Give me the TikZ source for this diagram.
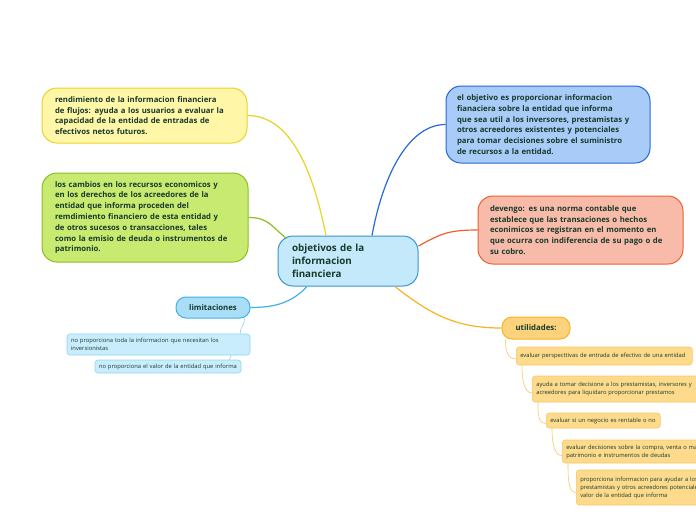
\documentclass[tikz,border=0pt]{standalone}
\usepackage{fontspec}
\setmainfont{Open Sans}
\usetikzlibrary{calc}
\definecolor{txtdk}{HTML}{173A2B}
\definecolor{cenfill}{HTML}{C3E9FA}
\definecolor{cendraw}{HTML}{3A95D2}
\definecolor{yelfill}{HTML}{FFF6A8}
\definecolor{yeldraw}{HTML}{E9D22A}
\definecolor{grnfill}{HTML}{C8EA70}
\definecolor{grndraw}{HTML}{8DBE22}
\definecolor{blufill}{HTML}{A8CBF8}
\definecolor{bludraw}{HTML}{2768D8}
\definecolor{salfill}{HTML}{F8BBAA}
\definecolor{saldraw}{HTML}{F0602E}
\definecolor{limfill}{HTML}{AADEF6}
\definecolor{limdraw}{HTML}{40B2E8}
\definecolor{limlfill}{HTML}{C9EDFC}
\definecolor{limldraw}{HTML}{90D4F2}
\definecolor{utlfill}{HTML}{FCD37C}
\definecolor{utldraw}{HTML}{F5B521}
\definecolor{utllfill}{HTML}{FDDA8C}
\definecolor{utlldraw}{HTML}{F8C860}
\newcommand\cenfont{\bfseries\fontsize{9.8}{13.3}\selectfont}
\newcommand\topicfont{\bfseries\fontsize{7.75}{10.8}\selectfont}
\newcommand\subfont{\bfseries\fontsize{7.8}{9}\selectfont}
\newcommand\leaffont{\fontsize{5.8}{8}\selectfont}
\tikzset{
  blk/.style={draw,rounded corners=15pt,line width=1pt,inner ysep=0pt,align=left,text=txtdk},
  cenblk/.style={blk,fill=cenfill,draw=cendraw,font=\cenfont,inner xsep=14pt,text width=112pt,minimum height=50pt},
  yelblk/.style={blk,fill=yelfill,draw=yeldraw,font=\topicfont,inner xsep=13pt},
  grnblk/.style={blk,fill=grnfill,draw=grndraw,font=\topicfont,inner xsep=13pt},
  blublk/.style={blk,fill=blufill,draw=bludraw,font=\topicfont,inner xsep=11pt},
  salblk/.style={blk,fill=salfill,draw=saldraw,font=\topicfont,inner xsep=12pt},
  limblk/.style={blk,rounded corners=10pt,fill=limfill,draw=limdraw,font=\subfont,align=center,minimum width=74pt,minimum height=21pt,inner xsep=0pt},
  utlblk/.style={blk,rounded corners=10pt,fill=utlfill,draw=utldraw,font=\subfont,align=center,minimum width=68pt,minimum height=22pt,inner xsep=0pt},
  limleaf/.style={blk,rounded corners=3pt,line width=0.6pt,fill=limlfill,draw=limldraw,font=\leaffont,inner xsep=4pt},
  utlleaf/.style={blk,rounded corners=3pt,line width=0.6pt,fill=utllfill,draw=utlldraw,font=\leaffont,inner xsep=4pt,anchor=west},
  conn/.style={line width=1.2pt},
  leafconn/.style={line width=0.6pt}
}
\begin{document}
\begin{tikzpicture}[x=1pt,y=-1pt]
  \path[use as bounding box,fill=white] (0,0) rectangle (696,520);
  \clip (0,0) rectangle (696,520);

  % central topic
  \node[cenblk] (obj) at (348,261) {objetivos de la\\informacion\\financiera};

  % main topics
  \node[yelblk,text width=179pt,minimum height=55pt] (rend) at (144.5,115.5)
    {rendimiento de la informacion financiera\\de flujos: ayuda a los usuarios a evaluar la\\capacidad de la entidad de entradas de\\efectivos netos futuros.};
  \node[grnblk,text width=180pt,minimum height=89pt] (camb) at (145,217.5)
    {los cambios en los recursos economicos y\\en los derechos de los acreedores de la\\entidad que informa proceden del\\remdimiento financiero de esta entidad y\\de otros sucesos o transacciones, tales\\como la emisio de deuda o instrumentos de\\patrimonio.};
  \node[blublk,text width=182pt,minimum height=77pt] (objv) at (548,124.5)
    {el objetivo es proporcionar informacion\\fianaciera sobre la entidad que informa\\que sea util a los inversores, prestamistas y\\otros acreedores existentes y potenciales\\para tomar decisiones sobre el suministro\\de recursos a la entidad.};
  \node[salblk,text width=181pt,minimum height=68pt] (dev) at (580.5,230)
    {devengo: es una norma contable que\\establece que las transaciones o hechos\\econimicos se registran en el momento en\\que ocurra con indiferencia de su pago o de\\su cobro.};

  % limitaciones
  \node[limblk] (lim) at (213,307.5) {limitaciones};
  \node[limleaf,text width=175pt,minimum height=21pt] (lim1) at (158.5,344.5)
    {no proporciona toda la informacion que necesitan los\\inversionistas};
  \node[limleaf,text width=138pt,minimum height=13pt,inner xsep=4pt] (lim2) at (168,366.5)
    {no proporciona el valor de la entidad que informa};

  % utilidades
  \node[utlblk] (utl) at (536,328) {utilidades:};
  \node[utlleaf,text width=168pt,minimum height=18pt] (ut1) at (516,356)
    {evaluar perspecttivas de entrada de efectivo de una entidad};
  \node[utlleaf,text width=190pt,minimum height=26pt] (ut2) at (532,389)
    {ayuda a tomar decisione a los prestamistas, inversores y\\acreedores para liquidaro proporcionar prestamos};
  \node[utlleaf,text width=106pt,minimum height=15pt] (ut3) at (546,420.5)
    {evaluar si un negocio es rentable o no};
  \node[utlleaf,text width=240pt,minimum height=23pt] (ut4) at (562,451.5)
    {evaluar decisiones sobre la compra, venta o mantener instrumentos de\\patrimonio e instrumentos de deudas};
  \node[utlleaf,text width=200pt,minimum height=35pt] (ut5) at (576,487.5)
    {proporciona informacion para ayudar a los\\prestamistas y otros acreedores potenciales a evaluar el\\valor de la entidad que informa};

  % connectors
  \draw[conn,yeldraw] (rend.east) .. controls +(45,0) and +(-12,-60) .. ($(obj.north)+(-22,0)$);
  \draw[conn,grndraw] (camb.east) .. controls +(20,0) and +(-15,-12) .. ($(obj.north west)+(9,3)$);
  \draw[conn,bludraw] ($(obj.north)+(24,0)$) .. controls +(12,-65) and +(-35,0) .. (objv.west);
  \draw[conn,saldraw] ($(obj.east)+(0,-15)$) .. controls +(22,-12) and +(-30,0) .. (dev.west);
  \draw[conn,utldraw] ($(obj.south)+(47,0)$) .. controls +(40,32) and +(-40,0) .. (utl.west);
  \draw[conn,limdraw] ($(obj.south)+(-41,0)$) .. controls +(-15,16) and +(25,0) .. (lim.east);
  \draw[leafconn,limldraw] ($(lim.south east)+(-6,0)$) .. controls +(0,8) and +(0,-8) .. ($(lim1.north east)+(-10,0)$);
  \draw[leafconn,limldraw] ($(lim1.south east)+(-19,0)$) -- ($(lim2.north east)+(-12,0)$);
  \draw[leafconn,utlldraw] ($(utl.south west)+(4,0)$) .. controls +(0,12) and +(-8,0) .. ($(ut1.west)+(0,3)$);
  \draw[leafconn,utlldraw] ($(ut1.south west)+(6,0)$) .. controls +(0,14) and +(-8,0) .. ($(ut2.west)+(0,4)$);
  \draw[leafconn,utlldraw] ($(ut2.south west)+(6,0)$) .. controls +(0,12) and +(-8,0) .. ($(ut3.west)+(0,3)$);
  \draw[leafconn,utlldraw] ($(ut3.south west)+(6,0)$) .. controls +(0,14) and +(-8,0) .. ($(ut4.west)+(0,4)$);
  \draw[leafconn,utlldraw] ($(ut4.south west)+(6,0)$) .. controls +(0,14) and +(-8,0) .. ($(ut5.west)+(0,5)$);
\end{tikzpicture}
\end{document}
